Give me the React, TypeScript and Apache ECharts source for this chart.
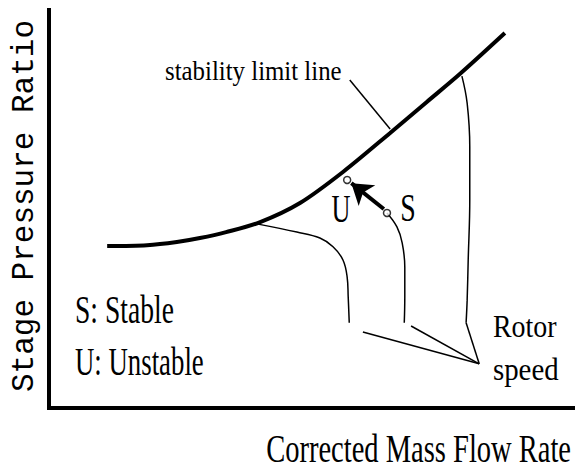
import React, { useEffect, useRef } from "react";
import * as echarts from "echarts";

// Stability (surge) limit line
const stabilityX = [11.1, 18.7, 24.4, 28.8, 33.8, 40.3, 47.9, 56.1, 65.1, 72.1, 78.4, 87.0];
const stabilityY = [40.7, 40.9, 41.7, 42.7, 44.2, 46.7, 51.5, 59.3, 69.1, 76.9, 83.9, 94.2];

// Constant rotor speed lines
const speed1X = [39.9, 47.3, 51.7, 54.2, 56.1, 56.9, 57.1, 57.3];
const speed1Y = [46.2, 44.2, 42.7, 40.5, 37.2, 32.9, 27.9, 21.4];
const speed2X = [64.5, 66.4, 67.4, 67.9, 67.9, 67.8];
const speed2Y = [49.0, 45.5, 41.5, 35.4, 27.9, 21.4];
const speed3X = [78.8, 79.8, 80.3, 80.3, 80.0, 79.8, 79.6];
const speed3Y = [83.4, 76.6, 65.6, 52.3, 37.2, 27.1, 21.4];

// "Rotor speed" leader lines
const rotorPointer = [82.1, 11.1];
const rotorLeaderX = [59.9, 69.1, 79.6];
const rotorLeaderY = [19.1, 20.6, 21.4];

// "stability limit line" leader
const limitLeaderX = [57.4, 65.1];
const limitLeaderY = [82.4, 70.1];

// Operating points U and S
const pointNames = ["U", "S"];
const pointX = [56.9, 64.5];
const pointY = [57.3, 49.0];

// Arrow S -> U
const arrowFrom = [63.9, 50.0];
const arrowTo = [57.7, 56.5];

const zip = (xs: number[], ys: number[]) => xs.map((x, i) => [x, ys[i]]);

export default function App() {
  const ref = useRef<HTMLDivElement>(null);
  useEffect(() => {
    if (!ref.current) return;
    const chart = echarts.init(ref.current, null, { renderer: "svg" });
    const axisCommon = {
      type: "value",
      min: 0,
      max: 100,
      axisLine: { show: true, onZero: false, lineStyle: { color: "#000", width: 4, cap: "square" } },
      axisTick: { show: false },
      axisLabel: { show: false },
      splitLine: { show: false },
    };
    const thin = { color: "#000", width: 1.5 };
    const serif = "'Liberation Serif', 'Times New Roman', serif";
    const txt = (text: string, x: number, y: number, fontSize: number, scaleX: number, align = "left") => ({
      type: "text",
      x,
      y,
      scaleX,
      silent: true,
      style: {
        text,
        fontSize,
        fontFamily: serif,
        fill: "#000",
        align,
        verticalAlign: "middle",
        textAlign: align,
        textVerticalAlign: "middle",
      },
    });
    const option: any = {
      animation: false,
      backgroundColor: "#fff",
      grid: { left: 49, right: 2, top: 10, bottom: 63, outerBoundsMode: "none" },
      xAxis: { ...axisCommon },
      yAxis: { ...axisCommon },
      series: [
        {
          type: "line",
          data: zip(stabilityX, stabilityY),
          smooth: 0.3,
          symbol: "none",
          lineStyle: { color: "#000", width: 4 },
          z: 3,
        },
        ...[
          [speed1X, speed1Y],
          [speed2X, speed2Y],
          [speed3X, speed3Y],
        ].map(([xs, ys]) => ({
          type: "line",
          data: zip(xs, ys),
          smooth: 0.4,
          symbol: "none",
          lineStyle: thin,
          z: 2,
        })),
        ...rotorLeaderX.map((x, i) => ({
          type: "line",
          data: [[x, rotorLeaderY[i]], rotorPointer],
          symbol: "none",
          lineStyle: thin,
          z: 2,
        })),
        {
          type: "line",
          data: zip(limitLeaderX, limitLeaderY),
          symbol: "none",
          lineStyle: thin,
          z: 2,
        },
        {
          type: "scatter",
          data: pointNames.map((n, i) => ({ name: n, value: [pointX[i], pointY[i]] })),
          symbol: "circle",
          symbolSize: 7,
          itemStyle: { color: "#fff", borderColor: "#000", borderWidth: 1.5 },
          z: 6,
          markLine: {
            silent: true,
            animation: false,
            symbol: ["none", "arrow"],
            symbolSize: 20,
            label: { show: false },
            lineStyle: { color: "#000", width: 4, type: "solid" },
            itemStyle: { color: "#000" },
            data: [[{ coord: arrowFrom }, { coord: arrowTo }]],
          },
        },
      ],
      graphic: [
        txt("stability limit line", 165, 71, 27, 0.92),
        txt("U", 341, 208, 41, 0.64, "center"),
        txt("S", 408, 208, 41, 0.68, "center"),
        txt("S: Stable", 75, 309.5, 40, 0.69),
        txt("U: Unstable", 75, 361.5, 40, 0.67),
        txt("Rotor", 493, 326.5, 31, 0.9),
        txt("speed", 493, 369.5, 31, 0.93),
        txt("Corrected Mass Flow Rate", 571, 448.5, 40, 0.713, "right"),
        {
          type: "text",
          x: 24.7,
          y: 206,
          rotation: Math.PI / 2,
          silent: true,
          style: {
            text: "Stage Pressure Ratio",
            fontSize: 31,
            fontFamily: "'Liberation Mono', 'Courier New', monospace",
            fill: "#000",
            align: "center",
            verticalAlign: "middle",
            textAlign: "center",
            textVerticalAlign: "middle",
          },
        },
      ],
    };
    chart.setOption(option);
    return () => chart.dispose();
  }, []);
  return (
    <div
      ref={ref}
      style={{ position: "fixed", left: 0, top: 0, width: 575, height: 471, background: "#fff" }}
    />
  );
}
